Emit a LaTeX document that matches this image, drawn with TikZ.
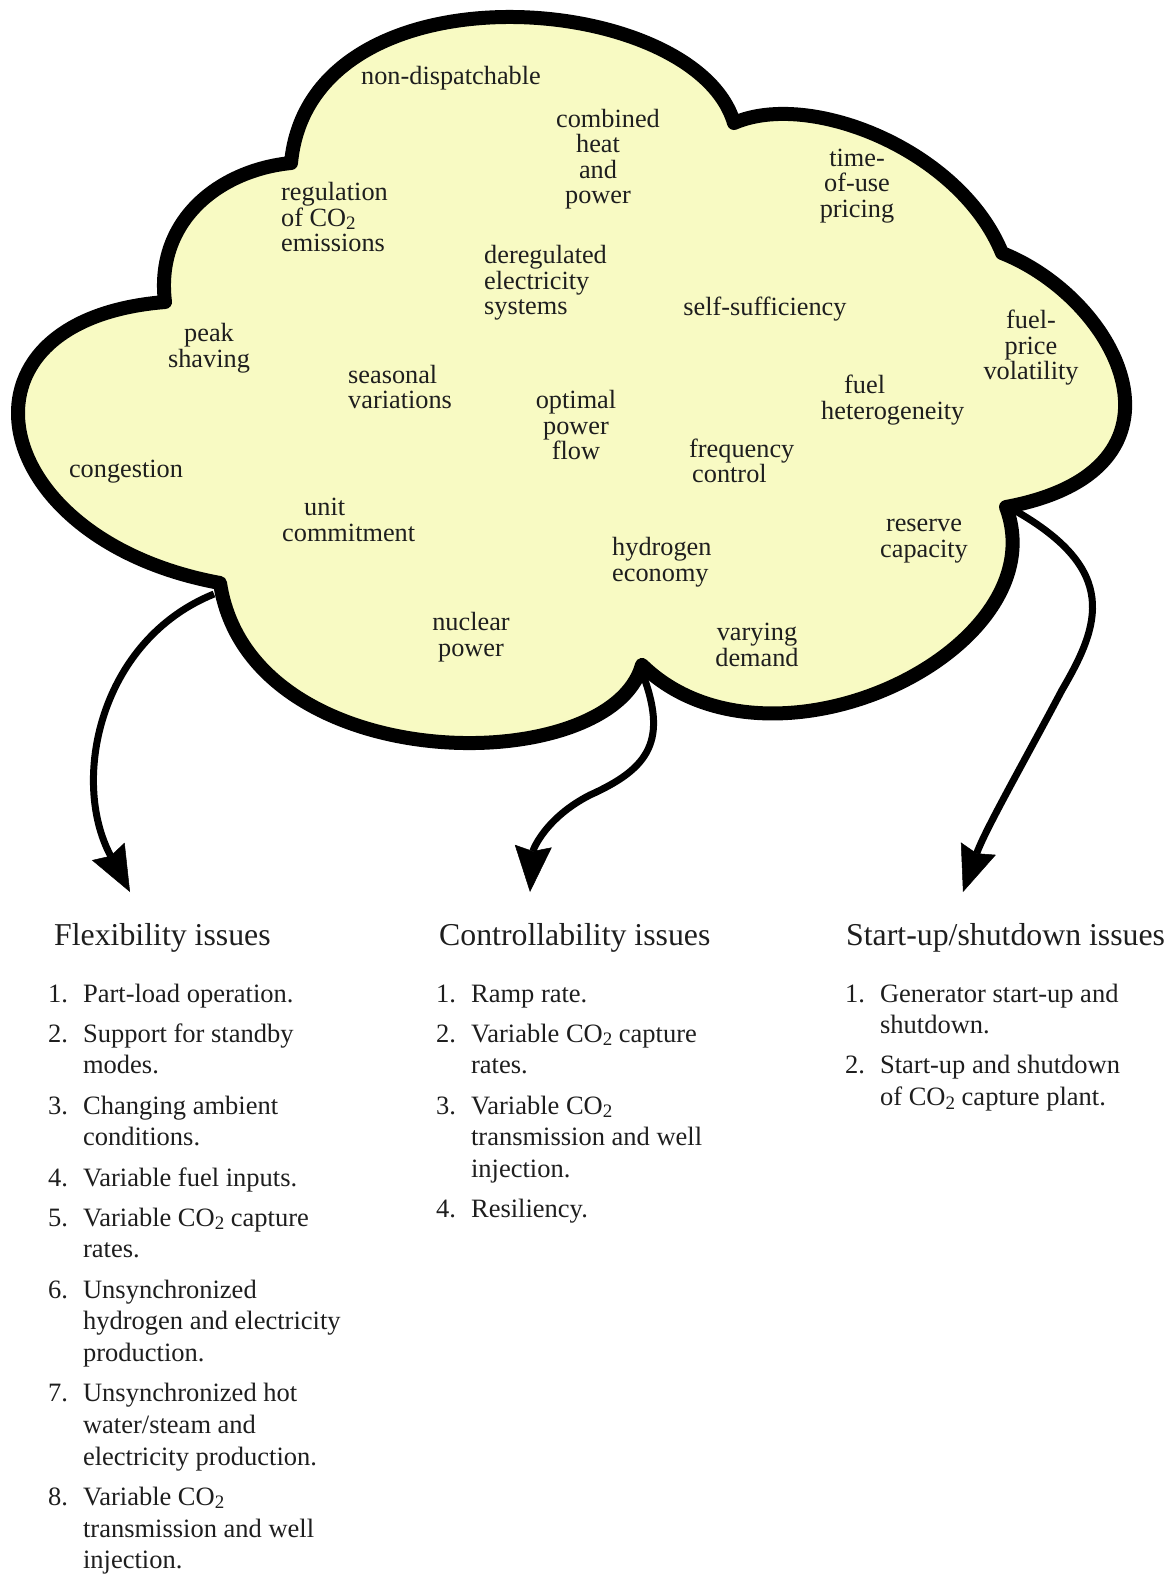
\documentclass[tikz,border=0pt]{standalone}
\usepackage{fontspec}
\setmainfont{Liberation Serif}
\usetikzlibrary{positioning,arrows.meta}
\definecolor{amarelo}{HTML}{F8FAC3}
\definecolor{escuro}{HTML}{1E1E1E}
\newcommand{\cod}{CO\raisebox{-0.13em}{\fontsize{19}{19}\selectfont 2}}

\begin{document}
\begin{tikzpicture}[x=1pt, y=-1pt,
  font={\fontsize{26.3}{25.5}\selectfont},
  rotulo/.style={align=center, inner sep=0pt, text=escuro},
  titulo/.style={inner sep=0pt, text=escuro, font={\fontsize{31.8}{37}\selectfont}},
  lista/.style={inner sep=0pt, text=escuro, font={\fontsize{26.5}{31.7}\selectfont}},
  nuvem/.style={draw=black, fill=amarelo, line width=14pt, line join=round},
  seta/.style={-{Stealth[length=46pt, width=37pt, inset=5pt, line width=0.5pt]}, line width=7pt, draw=black}]
\useasboundingbox (0,0) rectangle (1171,1575);
% ---- cantos da nuvem
\coordinate (c1) at (291,163);
\coordinate (c2) at (734,123);
\coordinate (c3) at (1002,253);
\coordinate (c4) at (1006,507);
\coordinate (c5) at (642,665);
\coordinate (c6) at (220,583);
\coordinate (c7) at (165,302);
\draw[nuvem] (c1) .. controls (310,-40) and (695,-10) .. (c2)
  .. controls (810,90) and (960,150) .. (c3)
  .. controls (1120,300) and (1205,470) .. (c4)
  .. controls (1060,650) and (770,790) .. (c5)
  .. controls (610,780) and (250,780) .. (c6)
  .. controls (-15,540) and (-60,320) .. (c7)
  .. controls (155,220) and (220,170) .. cycle;
% ---- termos dentro da nuvem
\node[rotulo] (naodesp) at (451,78) {non-dispatchable};
\node[rotulo] (chp) at (598,159) {\hspace*{20pt}combined\\heat\\and\\power};
\node[rotulo] (tarifa) at (857,186) {time-\\of-use\\pricing};
\node[rotulo, align=left, anchor=west] (regco) at (281,217) {regulation\\of \cod\\emissions};
\node[rotulo, align=left, anchor=west] (dereg) at (484,283) {deregulated\\electricity\\systems};
\node[rotulo] (autos) at (765,309) {self-sufficiency};
\node[rotulo] (volat) at (1031,348) {fuel-\\price\\volatility};
\node[rotulo] (pico) at (209,348) {peak\\shaving};
\node[rotulo, align=left, anchor=west] (sazon) at (348,387) {seasonal\\variations};
\node[rotulo] (fluxo) at (576,425) {optimal\\power\\flow};
\node[rotulo, align=left, anchor=west] (heter) at (821,400) {\hspace*{23pt}fuel\\heterogeneity};
\node[rotulo, align=left, anchor=west] (freq) at (689,461) {frequency\\\hspace*{3pt}control};
\node[rotulo] (cong) at (126,472) {congestion};
\node[rotulo, align=left, anchor=west] (uc) at (282,520) {\hspace*{22pt}unit\\commitment};
\node[rotulo, align=left, anchor=west] (hidro) at (612,562) {hydrogen\\economy};
\node[rotulo] (reserva) at (924,541) {reserve\\capacity};
\node[rotulo] (nuclear) at (471,637) {nuclear\\power};
\node[rotulo] (demanda) at (757,645) {varying\\demand};
% ---- setas para os tres grupos
\coordinate (saida1) at (214,594);
\coordinate (ponta1) at (130,892);
\coordinate (saida2) at (642,672);
\coordinate (ponta2) at (530,892);
\coordinate (saida3) at (1014,510);
\coordinate (ponta3) at (963,892);
\draw[seta] (saida1) .. controls (100,640) and (70,780) .. (ponta1);
\draw[seta] (saida2) .. controls (668,740) and (650,768) .. (590,795)
  .. controls (545,818) and (533,850) .. (ponta2);
\draw[seta] (saida3) .. controls (1120,570) and (1100,625) .. (1062,690)
  .. controls (1025,760) and (985,830) .. (ponta3);
% ---- titulos
\node[titulo, anchor=west] (flex) at (54,938) {Flexibility issues};
\node[titulo, anchor=west] (contr) at (439,938) {Controllability issues};
\node[titulo, anchor=west] (partida) at (846,938) {Start-up/shutdown issues};
% ---- listas
\node[lista, anchor=base west] (lflex) at (48,1002) {\begin{tabular}[t]{@{}r@{\hspace{15pt}}l@{}}
1. & Part-load operation.\\[8.5pt]
2. & Support for standby\\ & modes.\\[8.5pt]
3. & Changing ambient\\ & conditions.\\[8.5pt]
4. & Variable fuel inputs.\\[8.5pt]
5. & Variable \cod{} capture\\ & rates.\\[8.5pt]
6. & Unsynchronized\\ & hydrogen and electricity\\ & production.\\[8.5pt]
7. & Unsynchronized hot\\ & water/steam and\\ & electricity production.\\[8.5pt]
8. & Variable \cod\\ & transmission and well\\ & injection.
\end{tabular}};
\node[lista, anchor=base west] (lcontr) at (436,1002) {\begin{tabular}[t]{@{}r@{\hspace{15pt}}l@{}}
1. & Ramp rate.\\[8.5pt]
2. & Variable \cod{} capture\\ & rates.\\[8.5pt]
3. & Variable \cod\\ & transmission and well\\ & injection.\\[8.5pt]
4. & Resiliency.
\end{tabular}};
\node[lista, anchor=base west] (lpartida) at (845,1002) {\begin{tabular}[t]{@{}r@{\hspace{15pt}}l@{}}
1. & Generator start-up and\\ & shutdown.\\[8.5pt]
2. & Start-up and shutdown\\ & of \cod{} capture plant.
\end{tabular}};
\end{tikzpicture}
\end{document}
